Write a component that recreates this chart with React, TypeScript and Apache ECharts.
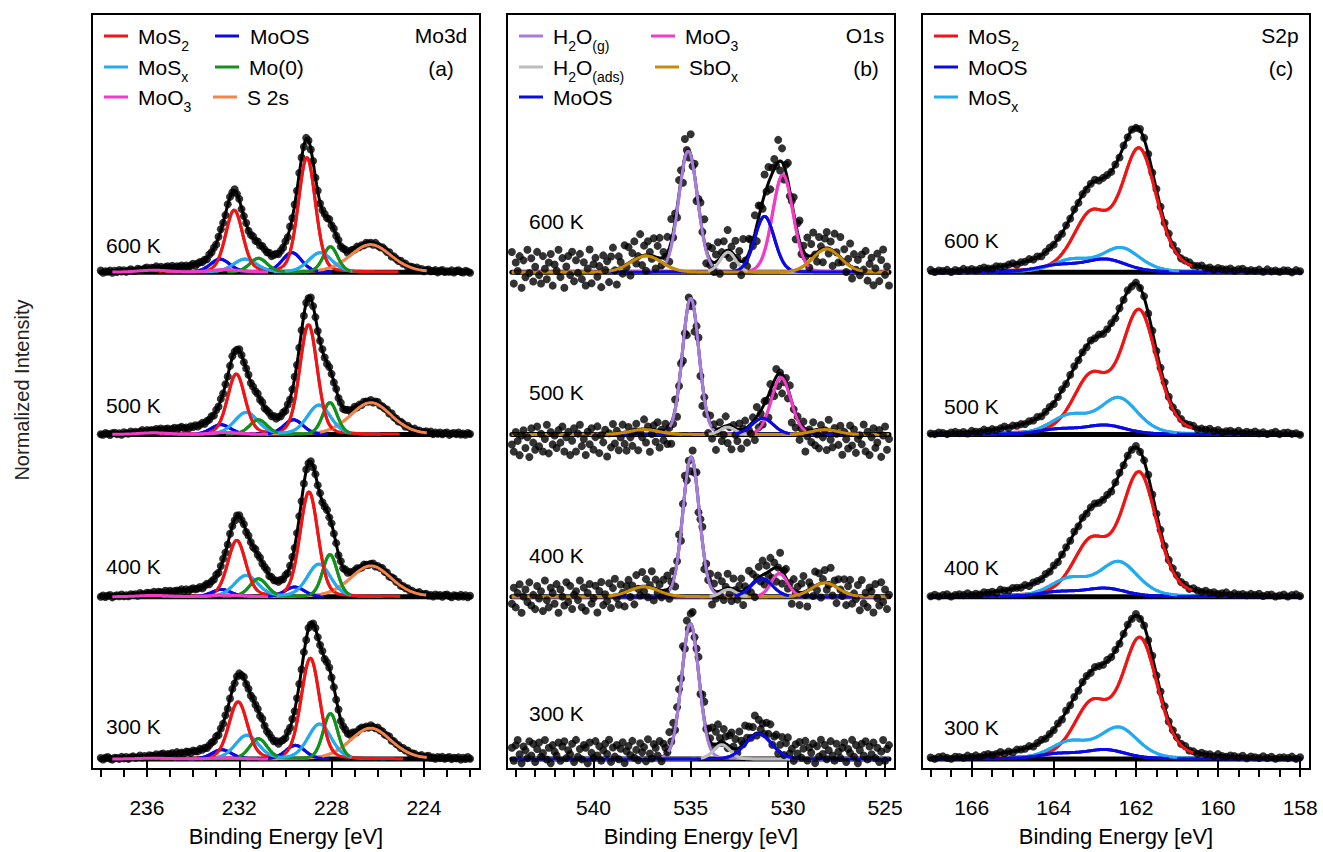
import React, { useEffect, useRef } from 'react';
import * as echarts from 'echarts';

const FONT = '"Liberation Sans", Arial, Helvetica, sans-serif';

// ---------- text / ticks ----------
const TEMPERATURES = ['300 K', '400 K', '500 K', '600 K'];
const MO3D_MAJOR_TICKS = [236, 232, 228, 224];
const MO3D_MINOR_TICKS = [238, 237, 236, 235, 234, 233, 232, 231, 230, 229, 228, 227, 226, 225, 224, 223, 222];
const O1S_MAJOR_TICKS = [540, 535, 530, 525];
const O1S_MINOR_TICKS = [544, 543, 542, 541, 540, 539, 538, 537, 536, 535, 534, 533, 532, 531, 530, 529, 528, 527, 526, 525];
const S2P_MAJOR_TICKS = [166, 164, 162, 160, 158];
const S2P_MINOR_TICKS = [167, 166.5, 166, 165.5, 165, 164.5, 164, 163.5, 163, 162.5, 162, 161.5, 161, 160.5, 160, 159.5, 159, 158.5, 158];

// acquisition windows: [start eV, end eV, step eV]
const MO3D_SCAN = [238.0, 222.0, 0.1];
const O1S_SCAN = [544.2, 524.8, 0.1];
const S2P_SCAN = [167.0, 158.0, 0.1];

// ---------- fitted components: per temperature (300,400,500,600 K), list of [centre eV, height, FWHM eV] ----------
const MO3D_MOS2 = [
  [[228.92, 0.62, 0.95], [232.05, 0.35, 0.95]],
  [[228.98, 0.645, 0.92], [232.11, 0.345, 0.92]],
  [[229.0, 0.675, 0.9], [232.13, 0.37, 0.9]],
  [[229.07, 0.705, 0.88], [232.22, 0.38, 0.88]],
];
const MO3D_MOOS = [
  [[229.57, 0.084, 1.0], [232.76, 0.057, 1.0]],
  [[229.6, 0.06, 1.0], [232.78, 0.045, 1.0]],
  [[229.65, 0.09, 1.0], [232.8, 0.06, 1.0]],
  [[229.72, 0.12, 1.0], [232.83, 0.08, 1.0]],
];
const MO3D_MOSX = [
  [[228.52, 0.215, 1.2], [231.67, 0.145, 1.2]],
  [[228.55, 0.2, 1.2], [231.7, 0.13, 1.2]],
  [[228.55, 0.18, 1.2], [231.7, 0.135, 1.2]],
  [[228.49, 0.12, 1.2], [231.75, 0.08, 1.2]],
];
const MO3D_MO0 = [
  [[228.05, 0.28, 0.75], [231.17, 0.125, 0.9]],
  [[228.07, 0.26, 0.75], [231.17, 0.11, 0.9]],
  [[228.07, 0.196, 0.75], [231.17, 0.09, 0.9]],
  [[228.05, 0.157, 0.75], [231.17, 0.085, 0.9]],
];
const MO3D_MOO3 = [
  [[232.6, 0.006, 1.6], [235.7, 0.005, 1.6]],
  [[232.6, 0.01, 1.6], [235.7, 0.008, 1.6]],
  [[232.6, 0.012, 1.6], [235.7, 0.01, 1.6]],
  [[232.6, 0.015, 1.6], [235.7, 0.012, 1.6]],
];
const MO3D_S2S = [
  [[226.31, 0.19, 2.1]],
  [[226.3, 0.19, 2.1]],
  [[226.3, 0.196, 2.1]],
  [[226.31, 0.17, 2.1]],
];
const MO3D_BACKGROUND = [
  [[233.6, 0.035, 3.4], [230.5, 0.03, 1.6]],
  [[233.6, 0.035, 3.4], [230.5, 0.03, 1.6]],
  [[233.6, 0.035, 3.4], [230.5, 0.03, 1.6]],
  [[233.6, 0.03, 3.4], [230.5, 0.025, 1.6]],
];

const O1S_H2OG = [[[535.02, 0.834, 1.05]], [[534.98, 0.86, 1.0]], [[535.0, 0.84, 1.0]], [[535.13, 0.747, 1.15]]];
const O1S_H2OADS = [[[533.4, 0.088, 1.0]], [[533.05, 0.045, 0.9]], [[533.1, 0.045, 0.9]], [[533.08, 0.123, 0.95]]];
const O1S_MOOS = [[[531.51, 0.155, 1.6]], [[531.34, 0.112, 1.3]], [[531.3, 0.1, 1.3]], [[531.2, 0.344, 1.2]]];
const O1S_MOO3 = [[], [[530.44, 0.143, 1.0]], [[530.35, 0.35, 1.2]], [[530.26, 0.6, 1.25]]];
const O1S_SBOX = [
  [],
  [[537.41, 0.061, 1.8], [528.09, 0.086, 1.6]],
  [[537.4, 0.03, 1.8], [528.1, 0.03, 1.6]],
  [[537.29, 0.1, 1.9], [528.0, 0.143, 1.7]],
];
const O1S_BACKGROUND = [[], [], [], []];

const S2P_MOS2 = [
  [[161.9, 0.73, 1.02], [163.08, 0.32, 1.02]],
  [[161.92, 0.75, 1.02], [163.1, 0.32, 1.02]],
  [[161.92, 0.75, 1.02], [163.1, 0.335, 1.02]],
  [[161.92, 0.745, 1.02], [163.1, 0.335, 1.02]],
];
const S2P_MOOS = [
  [[162.74, 0.055, 1.2], [163.9, 0.03, 1.2]],
  [[162.74, 0.05, 1.2], [163.9, 0.028, 1.2]],
  [[162.74, 0.055, 1.2], [163.9, 0.03, 1.2]],
  [[162.74, 0.077, 1.2], [163.9, 0.04, 1.2]],
];
const S2P_MOSX = [
  [[162.42, 0.19, 1.1], [163.62, 0.1, 1.1]],
  [[162.42, 0.21, 1.1], [163.62, 0.105, 1.1]],
  [[162.42, 0.22, 1.1], [163.62, 0.11, 1.1]],
  [[162.37, 0.147, 1.1], [163.57, 0.072, 1.1]],
];
const S2P_BACKGROUND = [[[164.8, 0.025, 1.5]], [[164.8, 0.025, 1.5]], [[164.8, 0.025, 1.5]], [[164.8, 0.025, 1.5]]];

// residuals of the measured points around the fit (read as scatter, arbitrary units)
const RESIDUALS = [
  3, -7, 5, 9, -2, -9, 4, 1, -5, 8, -3, 6, -8, 2, 7, -4, -1, 9, -6, 3,
  -9, 5, 0, -3, 7, -7, 4, 8, -5, 1, -2, 6, -8, 9, -4, 2, -6, 5, 3, -9,
  7, -1, -5, 8, -3, 4, -7, 1, 6, -2, 9, -8, 3, -4, 5, -6, 2, 7, -9, 0,
  4, -3, 8, -5, 1, -7, 6, -1, 3, -8, 9, -2, -6, 5, 2, -4, 7, -9, 4, 0,
  -5, 8, -3, 6, -7, 1, 3, -2, 9, -6, 5, -8, 2, 7, -4, -1, 6, -9, 3, 8,
  -5, 1, -3, 7, -7, 4, 9, -2, -6, 5, 0, -8, 3, 6, -4, 2, -9, 7, -1, -5,
  8, -3, 4, -6, 1, 9, -7, 5, -2, 3, -4, 6, -1, 8, -6, 2, 5, -8, 0, 7,
  -6, 4, 9, -3, 1, -8, 5, -2, 7, -5, 2, 8, -7, 3, -1, 6, -9, 4, -4, 9,
  -2, 5, -6, 1, 8, -3, -7, 6, 0, -5, 3, 7, -8, 2, -1, 9, -4, 5, -9, 1,
  6, -3, 8, -6, 4, -2, 7, -5, 3, -8, 0, 9, -7, 2, 5, -4, 1, -9, 6, -1,
];
const MO3D_RESIDUAL_SCALE = [0.0009, 0.0009, 0.0009, 0.0009];
const MO3D_RESIDUAL_BIAS = [0, 0, 0, 0];
const O1S_RESIDUAL_SCALE = [0.008, 0.011, 0.011, 0.013];
const O1S_RESIDUAL_BIAS = [0.045, 0.0, -0.04, 0.02];
const S2P_RESIDUAL_SCALE = [0.0009, 0.0009, 0.0009, 0.0009];
const S2P_RESIDUAL_BIAS = [0, 0, 0, 0];
const RESIDUAL_SHIFT = [0, 53, 107, 151];

// ---------- styles ----------
const RED = '#F01414';
const BLUE = '#0A0AE6';
const LIGHTBLUE = '#24AAEE';
const GREEN = '#13921B';
const MAGENTA = '#F23CC8';
const ORANGE = '#F5844C';
const PURPLE = '#A77DDA';
const GRAY = '#BDBDBD';
const GOLD = '#C88A0A';

const PANELS = [
  {
    grid: { left: 92, top: 14, width: 388, height: 757 },
    range: [221.57, 238.38], major: MO3D_MAJOR_TICKS, minor: MO3D_MINOR_TICKS,
    scan: MO3D_SCAN, eta: 0.2, bg: MO3D_BACKGROUND, underMin: 0.002,
    resScale: MO3D_RESIDUAL_SCALE, resBias: MO3D_RESIDUAL_BIAS,
    comps: [
      { name: 'S 2s', color: ORANGE, peaks: MO3D_S2S },
      { name: 'MoOS', color: BLUE, peaks: MO3D_MOOS },
      { name: 'MoSx', color: LIGHTBLUE, peaks: MO3D_MOSX },
      { name: 'Mo(0)', color: GREEN, peaks: MO3D_MO0 },
      { name: 'MoS2', color: RED, peaks: MO3D_MOS2 },
      { name: 'MoO3', color: MAGENTA, peaks: MO3D_MOO3 },
    ],
  },
  {
    grid: { left: 507, top: 14, width: 388, height: 757 },
    range: [524.49, 544.45], major: O1S_MAJOR_TICKS, minor: O1S_MINOR_TICKS,
    scan: O1S_SCAN, eta: 0.1, bg: O1S_BACKGROUND, underMin: -1,
    resScale: O1S_RESIDUAL_SCALE, resBias: O1S_RESIDUAL_BIAS,
    comps: [
      { name: 'H2O(g)', color: PURPLE, peaks: O1S_H2OG },
      { name: 'H2O(ads)', color: GRAY, peaks: O1S_H2OADS },
      { name: 'MoO3', color: MAGENTA, peaks: O1S_MOO3 },
      { name: 'MoOS', color: BLUE, peaks: O1S_MOOS },
      { name: 'SbOx', color: GOLD, peaks: O1S_SBOX },
    ],
  },
  {
    grid: { left: 922, top: 14, width: 388, height: 757 },
    range: [157.76, 167.21], major: S2P_MAJOR_TICKS, minor: S2P_MINOR_TICKS,
    scan: S2P_SCAN, eta: 0.3, bg: S2P_BACKGROUND, underMin: -1,
    resScale: S2P_RESIDUAL_SCALE, resBias: S2P_RESIDUAL_BIAS,
    comps: [
      { name: 'MoS2', color: RED, peaks: S2P_MOS2 },
      { name: 'MoSx', color: LIGHTBLUE, peaks: S2P_MOSX },
      { name: 'MoOS', color: BLUE, peaks: S2P_MOOS },
    ],
  },
];

// legend entries: [rich text, color, icon x, text x, row y]
const LEGEND_ITEMS: [string, string, number, number, number][] = [
  ['{n|MoS}{s|2}', RED, 104, 138, 36],
  ['{n|MoS}{s|x}', LIGHTBLUE, 104, 138, 67],
  ['{n|MoO}{s|3}', MAGENTA, 104, 138, 97],
  ['{n|MoOS}', BLUE, 215, 250, 36],
  ['{n|Mo(0)}', GREEN, 215, 249, 67],
  ['{n|S 2s}', ORANGE, 213, 247, 97],
  ['{n|H}{s|2}{n|O}{s|(g)}', PURPLE, 519, 553, 36],
  ['{n|H}{s|2}{n|O}{s|(ads)}', GRAY, 519, 553, 67],
  ['{n|MoOS}', BLUE, 519, 553, 97],
  ['{n|MoO}{s|3}', MAGENTA, 651, 685, 36],
  ['{n|SbO}{s|x}', GOLD, 655, 689, 67],
  ['{n|MoS}{s|2}', RED, 934, 968, 36],
  ['{n|MoOS}', BLUE, 934, 968, 67],
  ['{n|MoS}{s|x}', LIGHTBLUE, 934, 968, 97],
];
const PANEL_TITLES: [string, number, number][] = [
  ['Mo3d', 441, 35], ['(a)', 441, 68],
  ['O1s', 865, 35], ['(b)', 866, 68],
  ['S2p', 1280, 35], ['(c)', 1281, 68],
];
const TEMP_LABEL_POS = [
  { x: 106, y: [726, 566, 405, 245] },
  { x: 529, y: [713, 555, 392, 221] },
  { x: 944, y: [727, 567, 406, 240] },
];

function pv(E: number, p: number[], eta: number) {
  const d = (E - p[0]) / p[2];
  return p[1] * ((1 - eta) * Math.exp(-4 * Math.LN2 * d * d) + eta / (1 + 4 * d * d));
}
function sumPeaks(E: number, peaks: number[][], eta: number) {
  let s = 0;
  for (const p of peaks) s += pv(E, p, eta);
  return s;
}

function buildOption() {
  const grids: any[] = [];
  const xAxes: any[] = [];
  const yAxes: any[] = [];
  const series: any[] = [];
  const graphics: any[] = [];

  PANELS.forEach((P, pi) => {
    grids.push({ ...P.grid, show: true, borderColor: '#000', borderWidth: 2, backgroundColor: 'transparent' });
    xAxes.push({
      type: 'value', gridIndex: pi, position: 'bottom', min: P.range[0], max: P.range[1], inverse: true,
      axisLine: { show: false }, splitLine: { show: false },
      axisTick: { show: true, customValues: P.major, length: 15, lineStyle: { color: '#000', width: 2 } },
      axisLabel: { customValues: P.major, fontSize: 21, color: '#000', fontFamily: FONT, margin: 28 },
      name: 'Binding Energy [eV]', nameLocation: 'middle', nameGap: 56,
      nameTextStyle: { fontSize: 22, color: '#000', fontFamily: FONT },
    });
    xAxes.push({
      type: 'value', gridIndex: pi, position: 'bottom', min: P.range[0], max: P.range[1], inverse: true,
      axisLine: { show: false }, splitLine: { show: false },
      axisTick: { show: true, customValues: P.minor, length: 8, lineStyle: { color: '#000', width: 2 } },
      axisLabel: { show: false },
    });
    yAxes.push({ type: 'value', gridIndex: pi, min: -0.0615, max: 4.591, show: false });

    const [s0, s1, step] = P.scan;
    const fine: number[] = [];
    for (let E = s0; E >= s1 - 1e-9; E -= 0.025) fine.push(E);
    const pts: number[] = [];
    for (let E = s0; E >= s1 - 1e-9; E -= step) pts.push(E);

    TEMPERATURES.forEach((_, ti) => {
      const off = ti;
      const allPeaks: number[][] = [...P.bg[ti]];
      P.comps.forEach((c) => allPeaks.push(...c.peaks[ti]));
      const common = { xAxisIndex: pi * 2, yAxisIndex: pi, silent: true, symbol: 'none' };
      // fit envelope
      series.push({
        ...common, type: 'line', name: 'Fit ' + TEMPERATURES[ti], z: 2,
        lineStyle: { color: '#000', width: 3 },
        data: fine.map((E) => [E, off + sumPeaks(E, allPeaks, P.eta)]),
      });
      // flat background line
      series.push({
        ...common, type: 'line', name: 'Background ' + TEMPERATURES[ti], z: 3,
        lineStyle: { color: '#000', width: 5, cap: 'round' },
        data: [[s0, off], [s1, off]],
      });
      P.comps.forEach((c) => {
        if (!c.peaks[ti].length) return;
        const vals = fine.map((E) => sumPeaks(E, c.peaks[ti], P.eta));
        const top = Math.max(...vals);
        // whole component (under the measured points)
        series.push({
          ...common, type: 'line', name: c.name, z: 4, connectNulls: false,
          lineStyle: { color: c.color, width: 3 }, itemStyle: { color: c.color },
          data: fine.map((E, k) => (vals[k] > P.underMin ? [E, off + vals[k]] : [E, null])),
        });
        // upper part of the component, drawn over the measured points
        series.push({
          ...common, type: 'line', name: c.name, z: 6, connectNulls: false,
          lineStyle: { color: c.color, width: 3 }, itemStyle: { color: c.color },
          data: fine.map((E, k) => (vals[k] > 0.05 * top ? [E, off + vals[k]] : [E, null])),
        });
      });
      // measured points
      series.push({
        type: 'scatter', name: 'Data ' + TEMPERATURES[ti], xAxisIndex: pi * 2, yAxisIndex: pi, z: 5, silent: true,
        symbol: 'circle', symbolSize: 8, itemStyle: { color: '#000' },
        data: pts.map((E, k) => [
          E,
          off + sumPeaks(E, allPeaks, P.eta) + P.resBias[ti] +
            P.resScale[ti] * RESIDUALS[(k + RESIDUAL_SHIFT[ti]) % RESIDUALS.length],
        ]),
      });
      graphics.push({
        type: 'text', x: TEMP_LABEL_POS[pi].x, y: TEMP_LABEL_POS[pi].y[ti], z: 100,
        style: { text: TEMPERATURES[ti], fontSize: 21, fontFamily: FONT, fill: '#000', verticalAlign: 'middle', align: 'left' },
      });
    });
  });

  const rich = {
    n: { fontSize: 21, fontFamily: FONT, fill: '#000', lineHeight: 34 },
    s: { fontSize: 14, fontFamily: FONT, fill: '#000', verticalAlign: 'bottom', lineHeight: 16 },
  };
  LEGEND_ITEMS.forEach(([txt, color, ix, tx, y]) => {
    graphics.push({ type: 'rect', z: 100, shape: { x: ix, y: y - 1.5, width: 24, height: 3 }, style: { fill: color } });
    graphics.push({
      type: 'text', x: tx, y, z: 100,
      style: { text: txt, rich, fontSize: 21, fontFamily: FONT, fill: '#000', verticalAlign: 'middle', align: 'left' },
    });
  });
  PANEL_TITLES.forEach(([t, x, y]) => {
    graphics.push({
      type: 'text', x, y, z: 100,
      style: { text: t, fontSize: 21, fontFamily: FONT, fill: '#000', verticalAlign: 'middle', align: 'center' },
    });
  });
  graphics.push({
    type: 'text', x: 22, y: 390, rotation: Math.PI / 2, z: 100,
    style: { text: 'Normalized Intensity', fontSize: 20, fontFamily: FONT, fill: '#222', verticalAlign: 'middle', align: 'center' },
  });

  return {
    animation: false,
    backgroundColor: '#fff',
    grid: grids,
    xAxis: xAxes,
    yAxis: yAxes,
    series,
    graphic: { elements: graphics },
  };
}

export default function App() {
  const ref = useRef<HTMLDivElement>(null);
  useEffect(() => {
    document.body.style.margin = '0';
    const chart = echarts.init(ref.current!, null, { renderer: 'svg' });
    chart.setOption(buildOption() as any);
    return () => chart.dispose();
  }, []);
  return <div ref={ref} style={{ width: 1323, height: 852 }} />;
}
